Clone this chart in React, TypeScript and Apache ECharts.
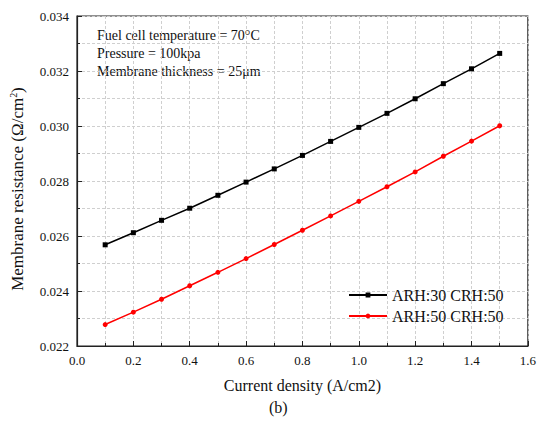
import React, { useEffect, useRef } from "react";
import * as echarts from "echarts";

const xValues = [0.1, 0.2, 0.3, 0.4, 0.5, 0.6, 0.7, 0.8, 0.9, 1.0, 1.1, 1.2, 1.3, 1.4, 1.5];
const arh30 = [0.02568, 0.02612, 0.02657, 0.02701, 0.02748, 0.02796, 0.02844, 0.02893, 0.02944, 0.02995, 0.03046, 0.03099, 0.03154, 0.03208, 0.03264];
const arh50 = [0.02278, 0.02323, 0.02370, 0.02419, 0.02468, 0.02518, 0.02569, 0.02621, 0.02673, 0.02726, 0.02779, 0.02833, 0.02890, 0.02945, 0.03001];
const seriesNames = ["ARH:30 CRH:50", "ARH:50 CRH:50"];
const annotations = ["Fuel cell temperature = 70\u00b0C", "Pressure = 100kpa", "Membrane thickness = 25\u03bcm"];

const FONT = "Liberation Serif";

export default function App() {
  const ref = useRef<HTMLDivElement>(null);
  useEffect(() => {
    document.body.style.margin = "0";
    if (!ref.current) return;
    const chart = echarts.init(ref.current, undefined, { renderer: "svg" });
    const gridLine = { show: true, lineStyle: { color: "#cfcfcf", type: [3, 2] as any, width: 1 } };
    chart.setOption({
      animation: false,
      backgroundColor: "#fff",
      textStyle: { fontFamily: FONT },
      grid: { left: 77, right: 8, top: 16, bottom: 75, show: true, borderColor: "#222", borderWidth: 1.2, backgroundColor: "transparent" },
      xAxis: {
        type: "value",
        min: 0,
        max: 1.6,
        interval: 0.2,
        name: "Current density (A/cm2)",
        nameLocation: "middle",
        nameGap: 31,
        nameTextStyle: { fontFamily: FONT, fontSize: 16, color: "#111" },
        axisLine: { show: true, lineStyle: { color: "#222", width: 1.2 } },
        axisTick: { show: true, inside: true, length: 5, lineStyle: { color: "#222" } },
        minorTick: { show: true, splitNumber: 2, length: 3, lineStyle: { color: "#222" } },
        axisLabel: { fontFamily: FONT, fontSize: 13, color: "#111", margin: 8, formatter: (v: number) => v.toFixed(1) },
        splitLine: gridLine,
        minorSplitLine: gridLine,
      },
      yAxis: {
        type: "value",
        min: 0.022,
        max: 0.034,
        interval: 0.002,
        axisLine: { show: true, lineStyle: { color: "#222", width: 1.2 } },
        axisTick: { show: true, inside: true, length: 5, lineStyle: { color: "#222" } },
        minorTick: { show: true, splitNumber: 2, length: 3, lineStyle: { color: "#222" } },
        axisLabel: { fontFamily: FONT, fontSize: 13, color: "#111", margin: 8, formatter: (v: number) => v.toFixed(3) },
        splitLine: gridLine,
        minorSplitLine: gridLine,
      },
      legend: {
        orient: "vertical",
        left: 343,
        top: 282,
        itemWidth: 38,
        itemHeight: 6,
        itemGap: 5,
        textStyle: { fontFamily: FONT, fontSize: 16, color: "#111" },
        data: seriesNames,
      },
      series: [
        {
          name: seriesNames[0],
          type: "line",
          data: xValues.map((x, i) => [x, arh30[i]]),
          symbol: "rect",
          symbolSize: 5,
          lineStyle: { color: "#000", width: 1.5 },
          itemStyle: { color: "#000" },
        },
        {
          name: seriesNames[1],
          type: "line",
          data: xValues.map((x, i) => [x, arh50[i]]),
          symbol: "circle",
          symbolSize: 5,
          lineStyle: { color: "#ff0000", width: 1.5 },
          itemStyle: { color: "#ff0000" },
        },
      ],
      graphic: [
        ...annotations.map((t, i) => ({
          type: "text",
          left: 97,
          top: 28 + i * 18,
          style: { text: t, font: `14px ${FONT}`, fill: "#111" },
        })),
        {
          type: "text",
          x: 17,
          y: 189,
          rotation: Math.PI / 2,
          style: {
            text: "Membrane resistance (\u03a9/cm{sup|2})",
            font: `17px ${FONT}`,
            fill: "#111",
            align: "center",
            verticalAlign: "middle",
            rich: { sup: { fontSize: 10, fontFamily: FONT, verticalAlign: "top", padding: [0, 0, 8, 0], fill: "#111" } },
          },
        },
        {
          type: "text",
          left: 269,
          top: 399,
          style: { text: "(b)", font: `16px ${FONT}`, fill: "#111" },
        },
      ],
    });
    return () => chart.dispose();
  }, []);
  return <div ref={ref} style={{ width: 539, height: 421 }} />;
}
